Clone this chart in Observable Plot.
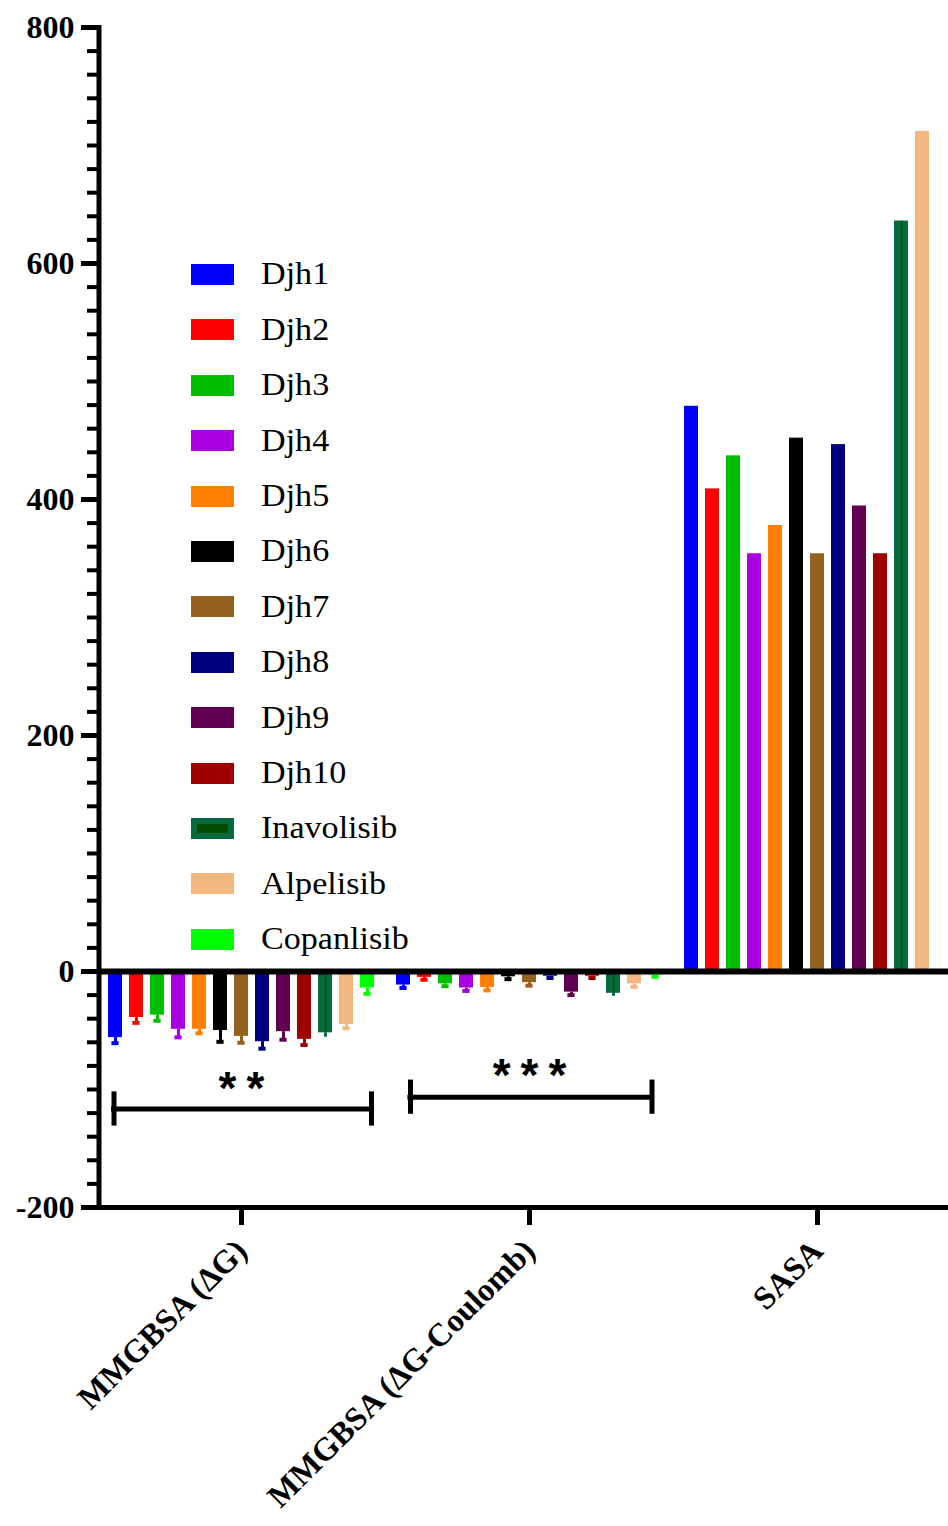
<!DOCTYPE html>
<html><head><meta charset="utf-8">
<script src="https://cdn.jsdelivr.net/npm/d3@7"></script>
<script src="https://cdn.jsdelivr.net/npm/@observablehq/plot@0.6"></script>
<style>
body{margin:0;background:#fff}
#wrap{position:relative;width:948px;height:1526px;overflow:hidden;background:#fff}
#legend{position:absolute;left:191px;top:246.8px;font-family:"Liberation Serif","Times New Roman",serif;font-size:31px;color:#000}
.row{display:flex;align-items:center;height:55.4px;white-space:nowrap}
.sw{width:43px;height:21px;margin-right:27px;box-sizing:border-box}
.lab{display:inline-block;transform:scaleX(1.1);transform-origin:left center}
</style></head><body><div id="wrap"></div>
<script>
const compounds = ["Djh1","Djh2","Djh3","Djh4","Djh5","Djh6","Djh7","Djh8","Djh9","Djh10","Inavolisib","Alpelisib","Copanlisib"];
const colors = ["#0000ff","#ff0000","#00bf00","#aa00e0","#ff8000","#000000","#946120","#000080","#600050","#a00000","#076a3e","#f2b880","#00ff00"];
const groups = ["MMGBSA (ΔG)","MMGBSA (ΔG-Coulomb)","SASA"];
const dG     = [-56, -39, -37, -49, -49, -50, -55, -59.5, -51, -57.5, -52, -45, -14];
const dGerr  = [4.7, 4.5, 4.8, 6.8, 3.4, 9.6, 5.4, 5.9, 6.8, 4.8, 3.7, 3.1, 4.9];
const dGC    = [-11.5, -5, -10.5, -14, -13.5, -4.5, -9.5, -4, -17.5, -4, -18.5, -10.5, -3];
const dGCerr = [2.5, 2, 2, 2.5, 2.5, 2, 2.5, 1.5, 2.5, 1.5, 2.5, 2.5, 1.5];
const sasa   = [479, 409, 437, 354, 378, 452, 354, 446.5, 394.5, 354, 636, 712, null];
const majorTicks = [-200, 0, 200, 400, 600, 800];
const minorTicks = d3.range(-200, 801, 20);
const brackets = [
  {group: groups[0], from: "Djh1", to: "Copanlisib", mid: "Djh7", y: -116.5, cap: 14.5, label: "**", ly: -100},
  {group: groups[1], from: "Djh1", to: "Copanlisib", mid: "Djh7", y: -106.5, cap: 14.5, label: "***", ly: -89}
];

const series = [dG, dGC, sasa];
const errs = [dGerr, dGCerr, null];
const rows = [];
groups.forEach((g, gi) => compounds.forEach((c, ci) => {
  const v = series[gi][ci];
  if (v == null) return;
  const e = errs[gi] ? errs[gi][ci] : 0;
  rows.push({group: g, compound: c, value: v, end: v + Math.sign(v) * e, err: e});
}));
const errRows = rows.filter(d => d.err > 0);

// bracket drawing: per-bracket pixel adjustments (style only)
const bracketStyle = [
  {insetLeft: 3, insetRight: 0.4, dxFrom: -1.5, dxTo: 4},
  {insetLeft: 11.4, insetRight: 7.9, dxFrom: 7, dxTo: -3.5}
];
const bracketMarks = brackets.flatMap((b, i) => {
  const s = bracketStyle[i];
  const data = [b];
  return [
    Plot.ruleY(data, {fx: "group", x1: "from", x2: "to", y: "y", strokeWidth: 5, insetLeft: s.insetLeft, insetRight: s.insetRight}),
    Plot.ruleX(data, {fx: "group", x: "from", y1: d => d.y + d.cap, y2: d => d.y - d.cap, strokeWidth: 5, dx: s.dxFrom}),
    Plot.ruleX(data, {fx: "group", x: "to", y1: d => d.y + d.cap, y2: d => d.y - d.cap, strokeWidth: 5, dx: s.dxTo})
  ];
});

const chart = Plot.plot({
  width: 948, height: 1526,
  marginLeft: 96, marginRight: -13.5, marginTop: 27, marginBottom: 319,
  style: {fontFamily: '"Liberation Serif","Times New Roman",serif', background: "white", color: "black"},
  fx: {domain: groups, padding: 0, label: null, axis: null},
  x: {domain: compounds, paddingInner: 0.352, paddingOuter: 0.5, axis: null},
  y: {domain: [-200, 800], axis: null, label: null},
  color: {domain: compounds, range: colors},
  marks: [
    Plot.barY(rows, {fx: "group", x: "compound", y: "value", fill: "compound"}),
    Plot.ruleX(rows.filter(d => d.compound === "Inavolisib"), {fx: "group", x: "compound", y1: 0, y2: "value", stroke: "#0c4a14", strokeWidth: 1.5}),
    Plot.ruleX(errRows, {fx: "group", x: "compound", y1: "value", y2: "end", stroke: "compound", strokeWidth: 3}),
    Plot.tickY(errRows, {fx: "group", x: "compound", y: "end", stroke: d => d.compound === "Inavolisib" ? "#004d00" : d.compound, strokeWidth: 4, insetLeft: 3.4, insetRight: 3.4}),
    Plot.ruleY([0], {strokeWidth: 6}),
    Plot.ruleY([-200], {strokeWidth: 5}),
    Plot.frame({anchor: "left", facetAnchor: "left", strokeWidth: 5, dx: 1.5}),
    Plot.axisY(minorTicks, {anchor: "left", tickSize: 10, tickFormat: () => "", strokeWidth: 4, label: null}),
    Plot.axisY(majorTicks, {anchor: "left", tickSize: 16, tickPadding: 7, fontSize: 32, fontWeight: "bold", strokeWidth: 5, label: null, tickFormat: d => String(d)}),
    Plot.axisFx({anchor: "bottom", tickSize: 18, tickPadding: 20, tickRotate: -45, fontSize: 32.5, fontWeight: "bold", strokeWidth: 5, label: null}),
    ...bracketMarks,
    Plot.text(brackets, {fx: "group", x: "mid", y: "ly", text: "label", fontSize: 46, fontWeight: "bold", fontFamily: '"Liberation Sans",Arial,sans-serif', lineAnchor: "middle"})
  ]
});
document.getElementById("wrap").appendChild(chart);
chart.querySelectorAll("text").forEach(t => {
  if (/^\*+$/.test(t.textContent)) { t.setAttribute("letter-spacing", "10"); t.setAttribute("dx", "5"); }
});

const legend = document.createElement("div");
legend.id = "legend";
compounds.forEach((c, i) => {
  const row = document.createElement("div");
  row.className = "row";
  const sw = document.createElement("div");
  sw.className = "sw";
  sw.style.background = colors[i];
  if (c === "Inavolisib") { sw.style.background = "#004d00"; sw.style.border = "6px solid " + colors[i]; }
  const lab = document.createElement("span");
  lab.className = "lab";
  lab.textContent = c;
  row.appendChild(sw); row.appendChild(lab);
  legend.appendChild(row);
});
document.getElementById("wrap").appendChild(legend);
</script></body></html>
